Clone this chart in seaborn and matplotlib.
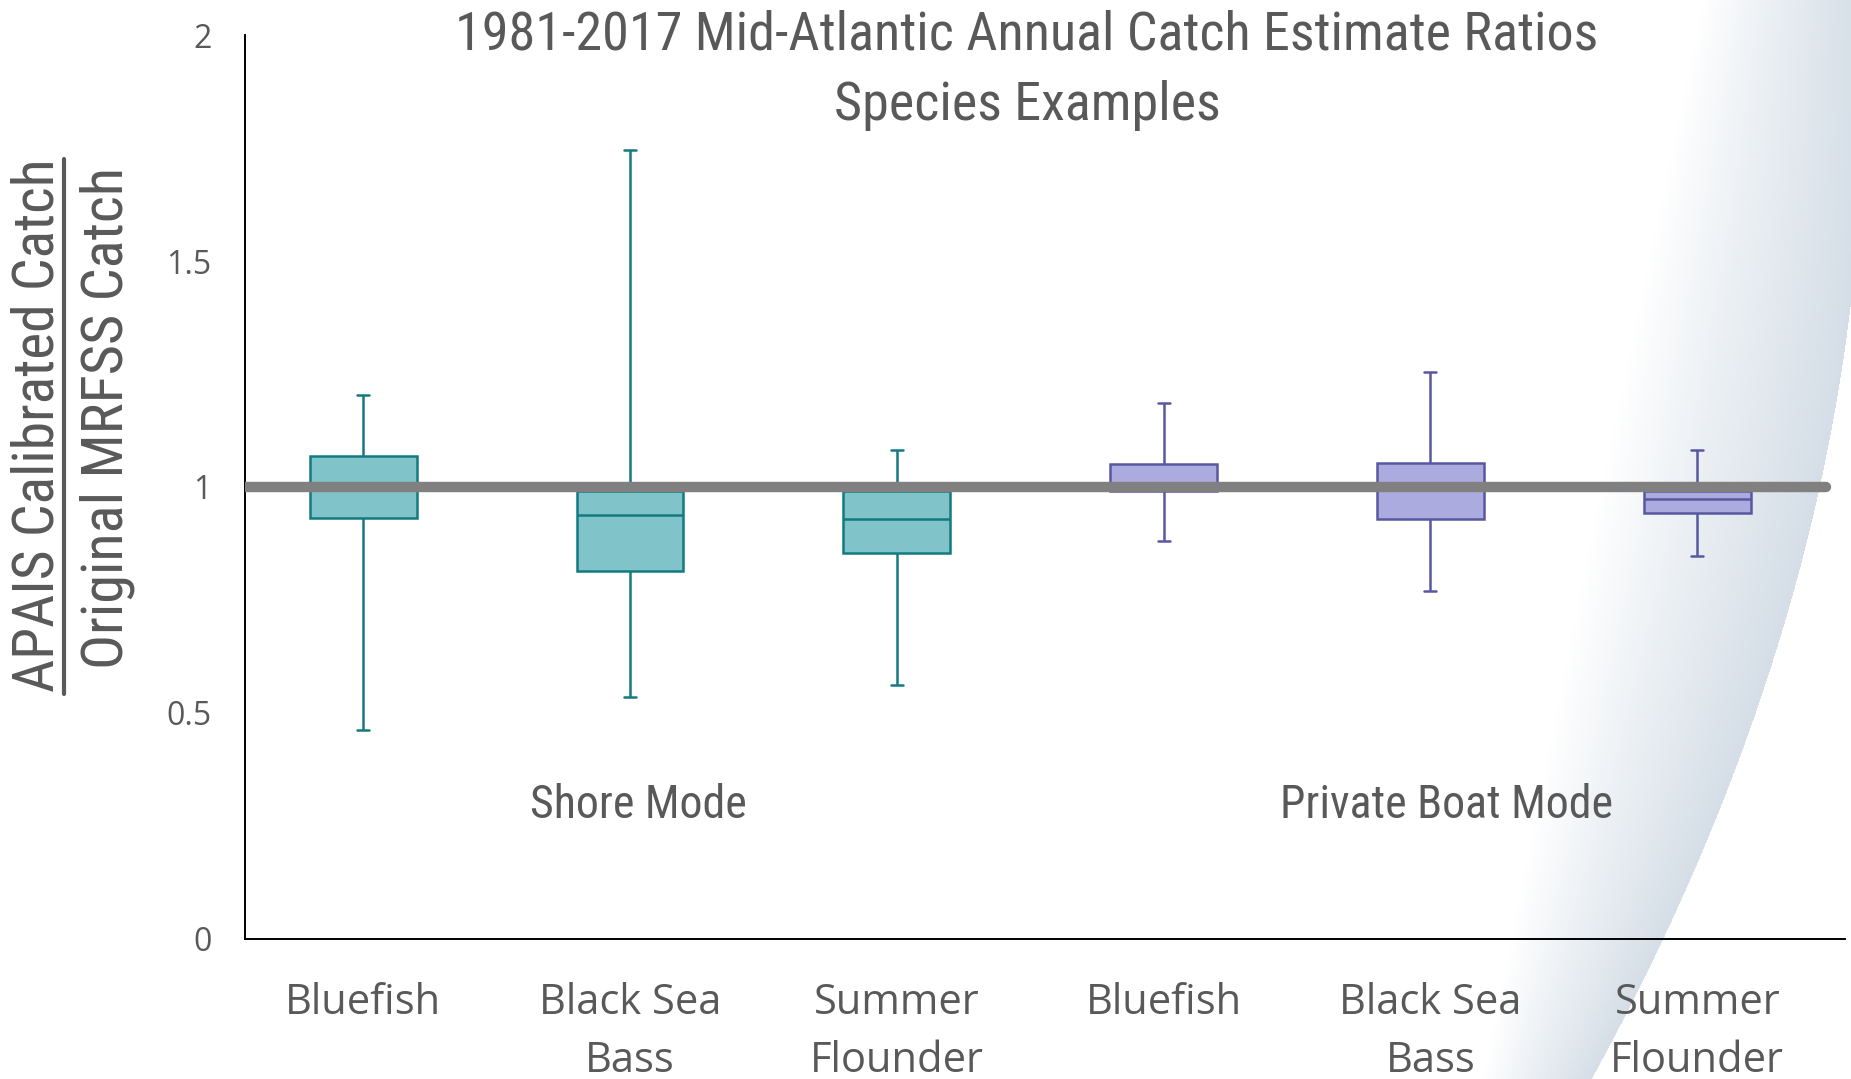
import matplotlib
matplotlib.use('Agg')

import numpy as np
import pandas as pd
import matplotlib.pyplot as plt
import seaborn as sns
from matplotlib import font_manager
from matplotlib.lines import Line2D

# Data (five-number summaries per box)
species = ['Bluefish', 'Black Sea\nBass', 'Summer\nFlounder']
modes = ['Shore Mode', 'Private Boat Mode']

shore_min = [0.462, 0.535, 0.561]
shore_q1 = [0.932, 0.813, 0.854]
shore_med = [1.000, 0.938, 0.929]
shore_q3 = [1.068, 0.990, 0.990]
shore_max = [1.204, 1.746, 1.081]

boat_min = [0.881, 0.770, 0.847]
boat_q1 = [0.990, 0.929, 0.942]
boat_med = [1.000, 1.000, 0.973]
boat_q3 = [1.050, 1.052, 0.990]
boat_max = [1.187, 1.255, 1.082]

reference_ratio = 1.0

title = '1981-2017 Mid-Atlantic Annual Catch Estimate Ratios\nSpecies Examples'
ylabel_top = 'APAIS Calibrated Catch'
ylabel_bottom = 'Original MRFSS Catch'

GRAY_TEXT = '#595959'
SHORE_FILL, SHORE_EDGE = '#80C4C9', '#127A80'
BOAT_FILL, BOAT_EDGE = '#ABABE0', '#5858A0'


def pick_font(names):
    for n in names:
        try:
            font_manager.findfont(font_manager.FontProperties(family=n), fallback_to_default=False)
            return n
        except ValueError:
            pass
    return 'DejaVu Sans'


narrow = pick_font(['Liberation Sans Narrow', 'Arial Narrow', 'Roboto Condensed', 'Liberation Sans'])
body = pick_font(['Open Sans', 'Lato', 'DejaVu Sans'])


# Build long table: each box is described by its five numbers, so with
# whis=(0, 100) seaborn reproduces min/q1/median/q3/max exactly.
rows = []
summaries = {
    'Shore Mode': (shore_min, shore_q1, shore_med, shore_q3, shore_max),
    'Private Boat Mode': (boat_min, boat_q1, boat_med, boat_q3, boat_max),
}
for m_i, mode in enumerate(modes):
    for s_i in range(len(species)):
        for stat in summaries[mode]:
            rows.append({'mode': mode, 'slot': m_i * len(species) + s_i, 'ratio': stat[s_i]})
df = pd.DataFrame(rows)

sns.set_theme(style='white')
W, H = 1851, 1079
fig = plt.figure(figsize=(W / 100, H / 100), dpi=100)
fig.patch.set_facecolor('white')

# Decorative swoosh in the background (right side): soft left edge,
# sharp curved right edge
bg = fig.add_axes([0, 0, 1, 1])
bg.set_axis_off()
yy, xx = np.mgrid[0:H, 0:W].astype(float)
L = np.interp(yy, [0, 540, 1079], [1703, 1590, 1483])
R = 1862 - 2.78e-4 * np.clip(yy - 90, 0, None) ** 2
t = (xx - L) / (R - L)
inside = (t >= 0) & (t <= 1)
t = np.clip(t, 0, 1) ** 0.9
steel = np.array([0.835, 0.871, 0.906])
img = np.ones((H, W, 3))
img[inside] = (1 - t[inside, None]) * 1.0 + t[inside, None] * steel
bg.imshow(img, extent=[0, 1, 0, 1], aspect='auto', origin='upper', interpolation='bilinear')
bg.set_xlim(0, 1)
bg.set_ylim(0, 1)

ax = fig.add_axes([245 / W, 1 - 938.5 / H, (1845 - 245) / W, (938.5 - 35.4) / H])
ax.set_facecolor('none')

styles = {'Shore Mode': (SHORE_FILL, SHORE_EDGE), 'Private Boat Mode': (BOAT_FILL, BOAT_EDGE)}
for mode in modes:
    fill, edge = styles[mode]
    sns.boxplot(data=df[df['mode'] == mode], x='slot', y='ratio', native_scale=True,
                whis=(0, 100), width=0.4, color=fill, linecolor=edge, linewidth=1.8,
                saturation=1, showfliers=False, capwidths=0.045, ax=ax)

ax.axhline(reference_ratio, xmin=0, xmax=0.988, color='#808080', lw=7.5, zorder=6)

ax.set_xlim(-0.443, 5.554)
ax.set_ylim(0, 2)
ax.set_xticks(range(6))
ax.set_xticklabels(species * 2, fontsize=30, color=GRAY_TEXT, family=body, linespacing=1.52)
ax.set_yticks([0, 0.5, 1, 1.5, 2])
ax.set_yticklabels(['0', '0.5', '1', '1.5', '2'], fontsize=23, color=GRAY_TEXT, family=body)
ax.tick_params(axis='both', length=0)
ax.tick_params(axis='y', pad=24)
ax.tick_params(axis='x', pad=31)
ax.set_xlabel('')
ax.set_ylabel('')
for side in ['top', 'right']:
    ax.spines[side].set_visible(False)
for side in ['left', 'bottom']:
    ax.spines[side].set_color('black')
    ax.spines[side].set_linewidth(1.4)

# Mode labels inside the plot
ax.text(1.03, 0.295, modes[0], ha='center', va='center', fontsize=33, color=GRAY_TEXT, family=narrow)
ax.text(4.06, 0.295, modes[1], ha='center', va='center', fontsize=33, color=GRAY_TEXT, family=narrow)

# Title
fig.text(1027 / W, 1 - 9 / H, title, ha='center', va='top', fontsize=39, color=GRAY_TEXT,
         family=narrow, linespacing=1.5)

# Y label as a fraction
fig.text(38 / W, 1 - 425 / H, ylabel_top, rotation=90, ha='center', va='center',
         fontsize=41.5, color=GRAY_TEXT, family=narrow)
fig.text(107 / W, 1 - 418 / H, ylabel_bottom, rotation=90, ha='center', va='center',
         fontsize=42, color=GRAY_TEXT, family=narrow)
fig.add_artist(Line2D([64 / W, 64 / W], [1 - 159 / H, 1 - 694 / H], transform=fig.transFigure,
                      color=GRAY_TEXT, lw=3))

fig.savefig('out.png', dpi=100)
